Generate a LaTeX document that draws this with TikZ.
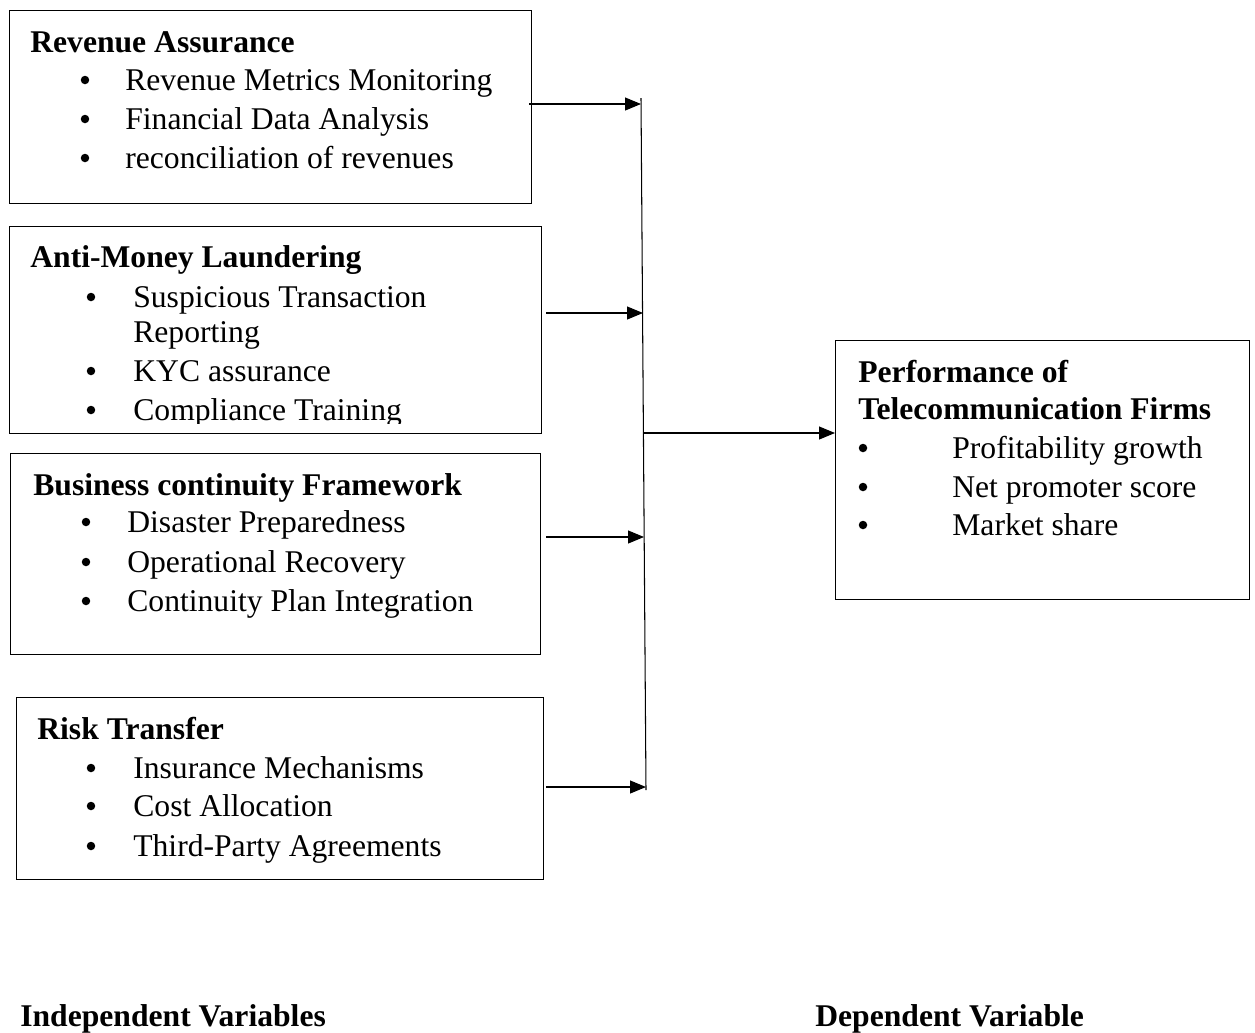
\documentclass[tikz,border=0pt]{standalone}
\usepackage{fontspec}
\setmainfont{Liberation Serif}
\usetikzlibrary{arrows.meta}
\begin{document}
\begin{tikzpicture}[
        x=0.02cm, y=-0.02cm,
        caja/.style={rectangle, draw, line width=0.8pt, anchor=north west, inner sep=0pt},
        titulo/.style={anchor=base west, inner sep=0pt, font=\fontsize{18}{22}\selectfont\bfseries},
        punto/.style={circle, fill, inner sep=0pt, minimum size=0.17cm},
        item/.style={anchor=base west, inner sep=0pt, font=\fontsize{18}{22}\selectfont},
        flecha/.style={-{Triangle[length=0.32cm,width=0.26cm]}, line width=0.6pt}
    ]
        \useasboundingbox (0,0) rectangle (1255,1032);

        % cajas
        \node[caja, minimum width=10.44cm, minimum height=3.86cm] (ra) at (9,10) {};
        \node[caja, minimum width=10.64cm, minimum height=4.14cm] (aml) at (9,226) {};
        \node[caja, minimum width=10.6cm, minimum height=4.02cm] (bcf) at (10,453) {};
        \node[caja, minimum width=10.54cm, minimum height=3.64cm] (rt) at (16,697) {};
        \node[caja, minimum width=8.28cm, minimum height=5.18cm] (perf) at (835,340) {};

        % Revenue Assurance
        \node[titulo] (raT) at (30,52) {Revenue Assurance};
        \node[punto] at (85,80) {};  \node[item] (ra1) at (125,90) {Revenue Metrics Monitoring};
        \node[punto] at (85,119) {}; \node[item] (ra2) at (125,129) {Financial Data Analysis};
        \node[punto] at (85,158) {}; \node[item] (ra3) at (125,168) {reconciliation of revenues};

        % Anti-Money Laundering
        \node[titulo] (amlT) at (30,267) {Anti-Money Laundering};
        \node[punto] at (91,297) {}; \node[item] (aml1) at (133,307) {Suspicious Transaction};
        \node[item] (aml1b) at (133,342) {Reporting};
        \node[punto] at (91,371) {}; \node[item] (aml2) at (133,381) {KYC assurance};
        \begin{scope}
            \clip (9,226) rectangle (541,423);
            \node[punto] at (91,410) {}; \node[item] (aml3) at (133,420) {Compliance Training};
        \end{scope}

        % Business continuity Framework
        \node[titulo] (bcfT) at (33,495) {Business continuity Framework};
        \node[punto] at (86,522) {}; \node[item] (bcf1) at (127,532) {Disaster Preparedness};
        \node[punto] at (86,562) {}; \node[item] (bcf2) at (127,572) {Operational Recovery};
        \node[punto] at (86,601) {}; \node[item] (bcf3) at (127,611) {Continuity Plan Integration};

        % Risk Transfer
        \node[titulo] (rtT) at (37,739) {Risk Transfer};
        \node[punto] at (91,768) {}; \node[item] (rt1) at (133,778) {Insurance Mechanisms};
        \node[punto] at (91,806) {}; \node[item] (rt2) at (133,816) {Cost Allocation};
        \node[punto] at (91,846) {}; \node[item] (rt3) at (133,856) {Third-Party Agreements};

        % Performance
        \node[titulo] (perfT) at (858,382) {Performance of};
        \node[titulo] (perfT2) at (858,419) {Telecommunication Firms};
        \node[punto] at (863,448) {}; \node[item] (p1) at (952,458) {Profitability growth};
        \node[punto] at (863,487) {}; \node[item] (p2) at (952,497) {Net promoter score};
        \node[punto] at (863,525) {}; \node[item] (p3) at (952,535) {Market share};

        % leyendas
        \node[titulo] (indep) at (20,1026) {Independent Variables};
        \node[titulo] (dep) at (815,1026) {Dependent Variable};

        % flechas
        \coordinate (top) at (641,98);
        \coordinate (b1) at (641,104);
        \coordinate (b2) at (643,313);
        \coordinate (mid) at (643,433);
        \coordinate (b3) at (644,537);
        \coordinate (b4) at (646,787);
        \coordinate (bot) at (646,790);
        \draw[line width=0.6pt] (top) -- (bot);
        \draw[flecha] ([xshift=-0.06cm]ra.east |- b1) -- (b1);
        \draw[flecha] ([xshift=0.08cm]aml.east |- b2) -- (b2);
        \draw[flecha] ([xshift=0.1cm]bcf.east |- b3) -- (b3);
        \draw[flecha] ([xshift=0.04cm]rt.east |- b4) -- (b4);
        \draw[flecha] (mid) -- (perf.west |- mid);
    \end{tikzpicture}
\end{document}
